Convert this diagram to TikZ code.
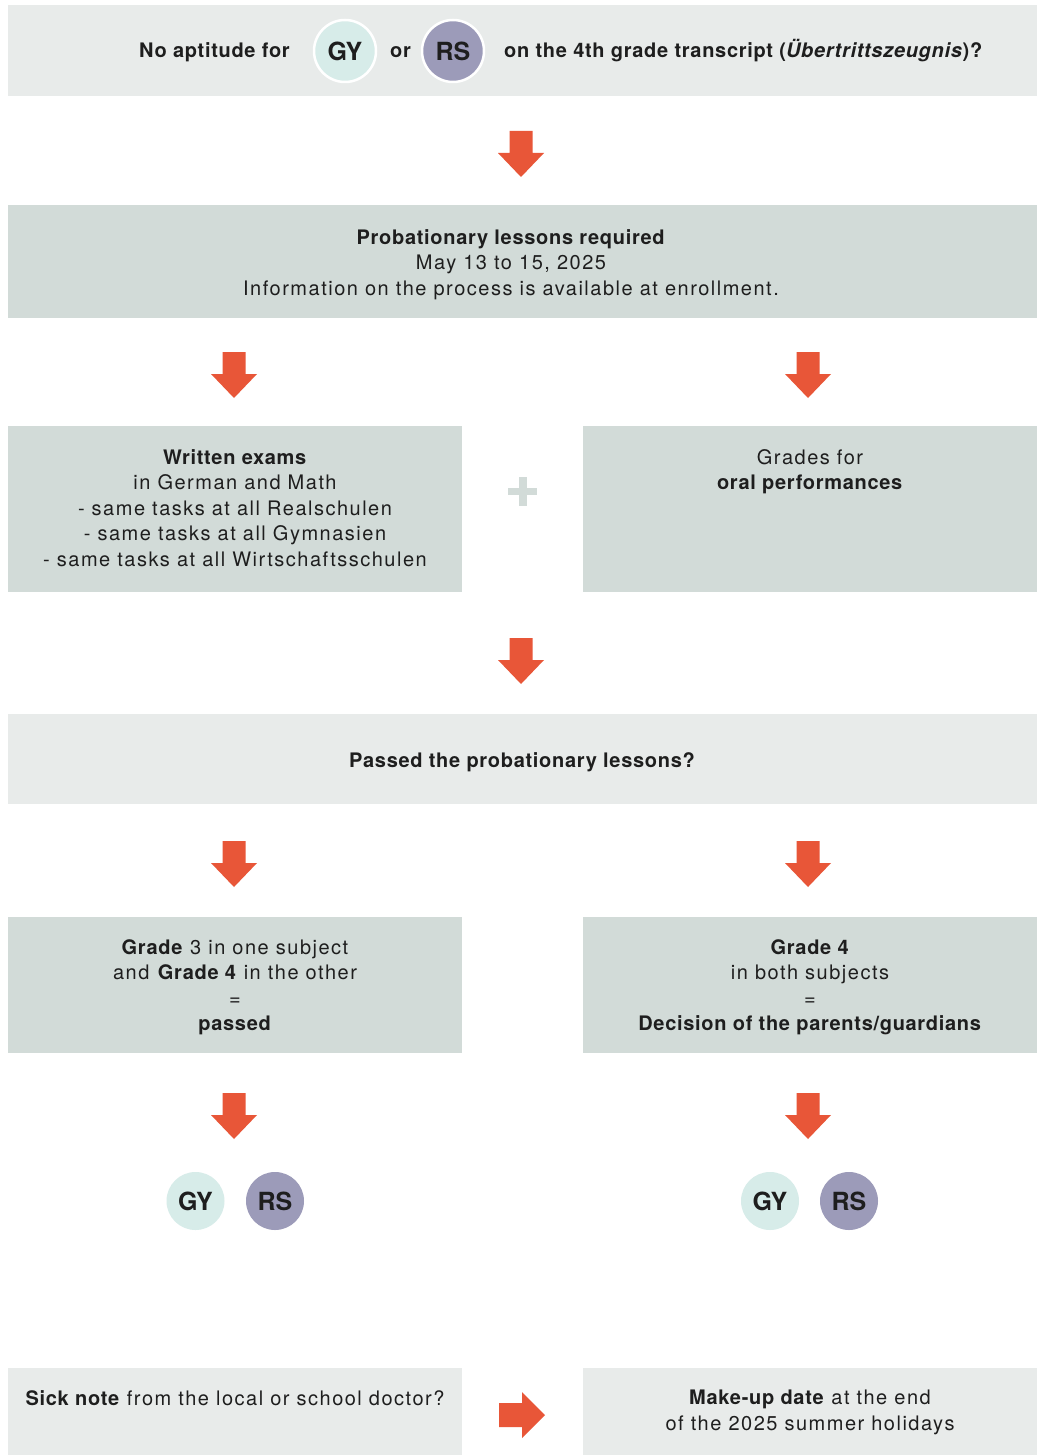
\documentclass[tikz,border=0pt]{standalone}
\usepackage{fontspec}
\setmainfont{TeX Gyre Heros}[LetterSpace=7.5,BoldFeatures={LetterSpace=3.5},BoldItalicFeatures={LetterSpace=3.5}]
\newfontfamily\circfont{TeX Gyre Heros}
\definecolor{lightc}{RGB}{232,235,234}
\definecolor{darkc}{RGB}{210,219,216}
\definecolor{arrowc}{RGB}{232,86,56}
\definecolor{gyc}{RGB}{215,236,233}
\definecolor{rsc}{RGB}{156,155,185}
\definecolor{textc}{RGB}{30,30,30}
\begin{document}
\begin{tikzpicture}[x=1pt,y=-1pt,
  every node/.style={text=textc,font=\fontsize{20}{25.5}\selectfont,inner sep=0pt},
  box/.style={rectangle,anchor=north west,draw=none},
  lightbox/.style={box,fill=lightc},
  darkbox/.style={box,fill=darkc},
  txt/.style={align=center},
  boldtxt/.style={font=\fontsize{20}{25.5}\selectfont\bfseries},
  circ/.style={circle,inner sep=0pt,font=\circfont\fontsize{25}{25}\selectfont\bfseries},
  gyball/.style={circ,fill=gyc},
  rsball/.style={circ,fill=rsc},
  darrow/.pic={\fill[arrowc] (-11.5,0) -- (11.5,0) -- (11.5,22) -- (23,22) -- (0,46) -- (-23,22) -- (-11.5,22) -- cycle;},
  rarrow/.pic={\fill[arrowc] (0,-12) -- (23,-12) -- (23,-23) -- (46,0) -- (23,23) -- (23,12) -- (0,12) -- cycle;}
]
\useasboundingbox (0,0) rectangle (1037,1455);
\fill[white] (0,0) rectangle (1037,1455);

% top question
\node[lightbox,minimum width=1029pt,minimum height=91pt] (top) at (8,5) {};
\node[anchor=base west,boldtxt] (t1) at (139,58) {No aptitude for};
\node[gyball,minimum size=62pt,draw=white,line width=2.5pt] (gy1) at (345,51) {GY};
\node[anchor=base west,boldtxt] (t2) at (390,58) {or};
\node[rsball,minimum size=62pt,draw=white,line width=2.5pt] (rs1) at (453,51) {RS};
\node[anchor=base west,boldtxt] (t3) at (504,58) {on the 4th grade transcript (\textit{Übertrittszeugnis})?};

\pic at (521,131) {darrow};

% probationary lessons
\node[darkbox,minimum width=1029pt,minimum height=113pt] (prob) at (8,205) {};
\node[txt,anchor=north] (probt) at (511,229) {\textbf{Probationary lessons required}\\May 13 to 15, 2025\\Information on the process is available at enrollment.};

\pic at (234,352) {darrow};
\pic at (808,352) {darrow};

% written exams / oral
\node[darkbox,minimum width=454pt,minimum height=166pt] (wl) at (8,426) {};
\node[darkbox,minimum width=454pt,minimum height=166pt] (wr) at (583,426) {};
\node[txt,anchor=north] (wlt) at (235,449) {\textbf{Written exams}\\in German and Math\\- same tasks at all Realschulen\\- same tasks at all Gymnasien\\- same tasks at all Wirtschaftsschulen};
\node[txt,anchor=north] (wrt) at (810,449) {Grades for\\\textbf{oral performances}};
\fill[darkc] (508,488) rectangle (537,495);
\fill[darkc] (519,477) rectangle (527,506);

\pic at (521,638) {darrow};

% passed?
\node[lightbox,minimum width=1029pt,minimum height=90pt] (pass) at (8,714) {};
\node[txt,anchor=base,boldtxt] (passt) at (522,767) {Passed the probationary lessons?};

\pic at (234,841) {darrow};
\pic at (808,841) {darrow};

% grade outcomes
\node[darkbox,minimum width=454pt,minimum height=136pt] (gl) at (8,917) {};
\node[darkbox,minimum width=454pt,minimum height=136pt] (gr) at (583,917) {};
\node[txt,anchor=north] (glt) at (235,939) {\textbf{Grade} 3 in one subject\\and \textbf{Grade 4} in the other\\=\\\textbf{passed}};
\node[txt,anchor=north] (grt) at (810,939) {\textbf{Grade 4}\\in both subjects\\=\\\textbf{Decision of the parents/guardians}};

\pic at (234,1093) {darrow};
\pic at (808,1093) {darrow};

% school types
\node[gyball,minimum size=58pt] (gy2) at (195.5,1201) {GY};
\node[rsball,minimum size=58pt] (rs2) at (275,1201) {RS};
\node[gyball,minimum size=58pt] (gy3) at (770,1201) {GY};
\node[rsball,minimum size=58pt] (rs3) at (849,1201) {RS};

% sick note
\node[lightbox,minimum width=454pt,minimum height=87pt] (sl) at (8,1368) {};
\node[lightbox,minimum width=454pt,minimum height=87pt] (sr) at (583,1368) {};
\node[txt,anchor=north] (slt) at (235,1390) {\textbf{Sick note} from the local or school doctor?};
\node[txt,anchor=north] (srt) at (810,1390) {\textbf{Make-up date} at the end\\of the 2025 summer holidays};
\pic at (499,1415) {rarrow};
\end{tikzpicture}
\end{document}
